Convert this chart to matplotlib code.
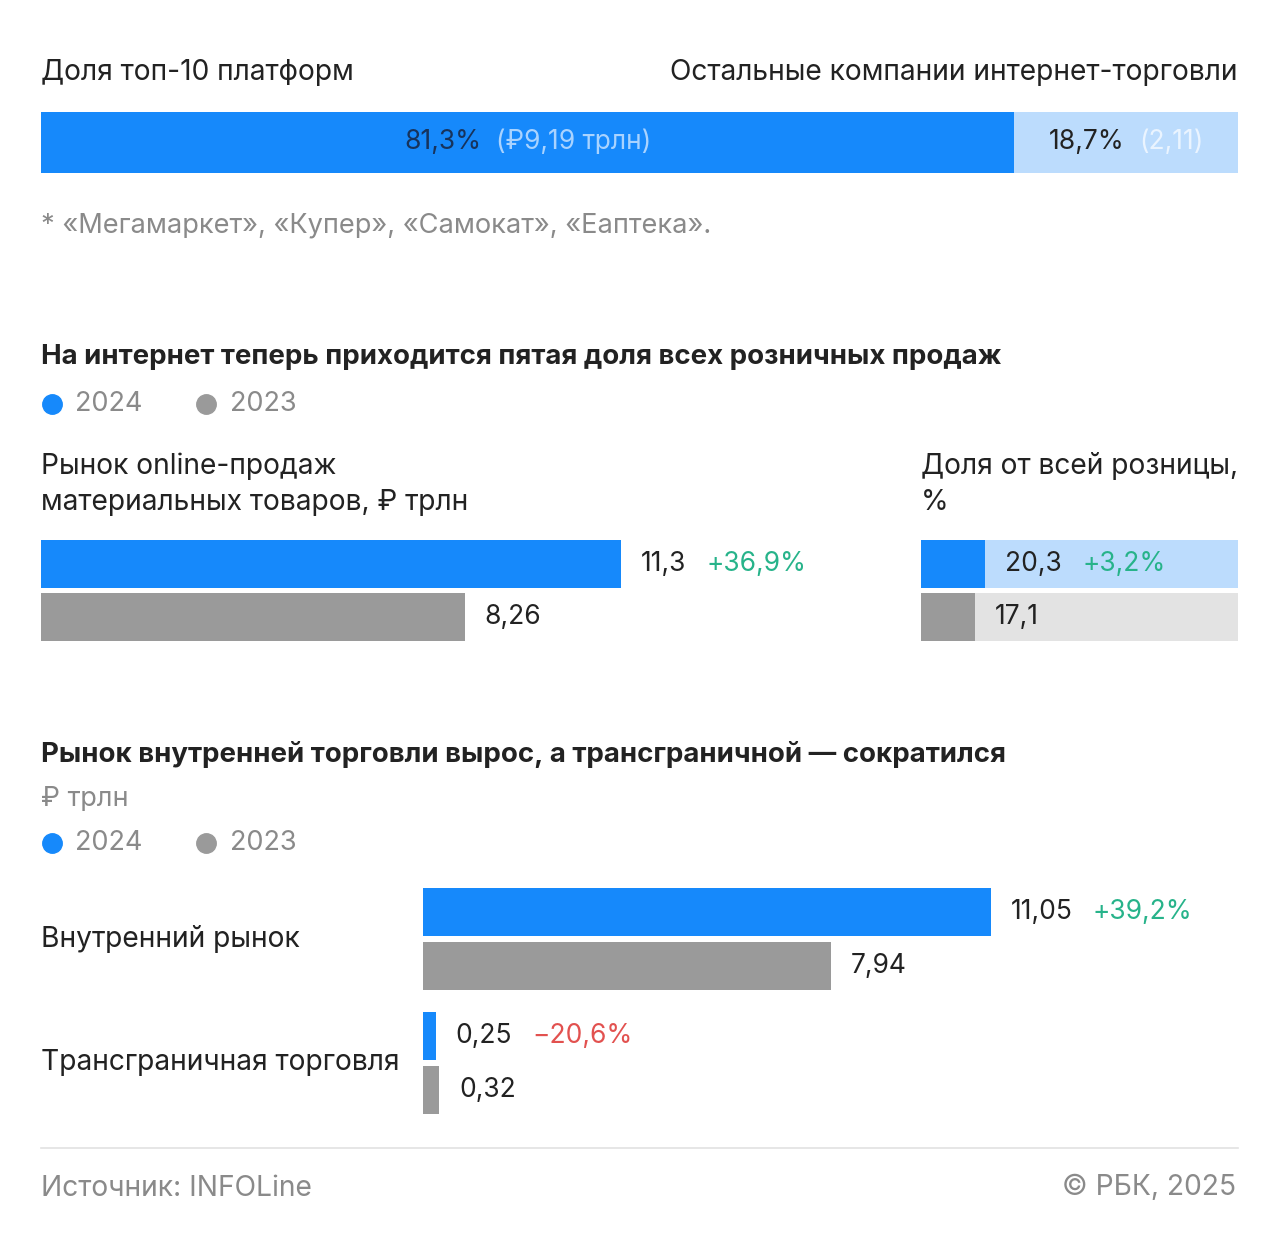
import matplotlib
matplotlib.use("Agg")
import matplotlib.pyplot as plt
from matplotlib.lines import Line2D
import matplotlib.transforms as mtransforms

plt.rcParams["font.family"] = ["Inter", "DejaVu Sans"]

# ----------------------- DATA ----------------------- #
share_labels = ["Доля топ-10 платформ", "Остальные компании интернет-торговли"]
share_values = [81.3, 18.7]
share_texts = [("81,3%", "(₽9,19 трлн)"), ("18,7%", "(2,11)")]

years = ["2024", "2023"]
online_market = [11.3, 8.26]
online_market_txt = ["11,3", "8,26"]
online_change = "+36,9%"
retail_share = [20.3, 17.1]
retail_share_txt = ["20,3", "17,1"]
retail_change = "+3,2%"

segments = ["Внутренний рынок", "Трансграничная торговля"]
seg_2024 = [11.05, 0.25]
seg_2023 = [7.94, 0.32]
seg_2024_txt = ["11,05", "0,25"]
seg_2023_txt = ["7,94", "0,32"]
seg_change = ["+39,2%", "−20,6%"]

# ----------------------- STYLE ---------------------- #
BLUE = "#1689fb"
LIGHT_BLUE = "#bcdcfd"
GRAY = "#9a9a9a"
LIGHT_GRAY = "#e3e3e3"
GREEN = "#27b38a"
RED = "#e2514f"
DARK = "#222222"
MUTED = "#8a8a8a"
NAVY = "#17335c"

FS = 20.3        # labels
FS_VAL = 19      # values on bars
FS_BOLD = 19.9   # section titles

W, H = 1280, 1239
fig = plt.figure(figsize=(W / 100, H / 100), dpi=100)
fig.patch.set_facecolor("white")


def fx(x):
    return x / W


def fy(y):
    return 1 - y / H


def axes_px(x0, y0, x1, y1):
    ax = fig.add_axes([fx(x0), fy(y1), fx(x1 - x0), (y1 - y0) / H])
    ax.set_axis_off()
    return ax


def ftext(x, y, s, **kw):
    kw.setdefault("va", "center")
    kw.setdefault("color", DARK)
    kw.setdefault("fontsize", FS)
    return fig.text(fx(x), fy(y), s, **kw)


def legend(y):
    for x_dot, x_txt, col, lab in [(52, 75, BLUE, years[0]), (206, 230, GRAY, years[1])]:
        fig.add_artist(Line2D([fx(x_dot)], [fy(y)], marker="o", markersize=14,
                              color=col, transform=fig.transFigure))
        ftext(x_txt, y, lab, color=MUTED, fontsize=19.5)


def value_label(ax, x, y, val, change=None, change_color=GREEN, pad=20):
    t = ax.annotate(val, xy=(x, y), xytext=(pad, 0), textcoords="offset pixels",
                    va="center", ha="left", fontsize=FS_VAL, color=DARK)
    if change:
        ax.annotate(change, xy=(1, 0.5), xycoords=t, xytext=(20, 0),
                    textcoords="offset pixels", va="center", ha="left",
                    fontsize=FS_VAL, color=change_color)
    return t


# ---------------- SECTION 1: shares ---------------- #
ftext(41, 72, share_labels[0])
ftext(1238, 72, share_labels[1], ha="right")

ax1 = axes_px(41, 112, 1238, 173)
ax1.barh([0], [share_values[0]], color=BLUE, height=1)
ax1.barh([0], [share_values[1]], left=[share_values[0]], color=LIGHT_BLUE, height=1)
ax1.set_xlim(0, sum(share_values))
ax1.set_ylim(-0.5, 0.5)

renderer = fig.canvas.get_renderer()
lefts = [0, share_values[0]]
colors_pairs = [(NAVY, "#a9d3ff"), (DARK, "#eaf4ff")]
for left, val, (a, b), (ca, cb) in zip(lefts, share_values, share_texts, colors_pairs):
    t1 = ax1.annotate(a, xy=(left + val / 2, 0), xytext=(0, 0), textcoords="offset pixels",
                      va="center", ha="left", fontsize=FS_VAL, color=ca)
    t2 = ax1.annotate(b, xy=(1, 0.5), xycoords=t1, xytext=(14, 0), textcoords="offset pixels",
                      va="center", ha="left", fontsize=FS_VAL, color=cb)
    e1 = t1.get_window_extent(renderer)
    e2 = t2.get_window_extent(renderer)
    t1.xyann = (-(e2.x1 - e1.x0) / 2, 0)

ftext(41, 225, "* «Мегамаркет», «Купер», «Самокат», «Еаптека».", color=MUTED, fontsize=19.6)

# ---------------- SECTION 2: online market ---------------- #
ftext(41, 357, "На интернет теперь приходится пятая доля всех розничных продаж",
      fontsize=FS_BOLD, fontweight="bold")
legend(404)

ftext(41, 466, "Рынок online-продаж")
ftext(41, 502, "материальных товаров, ₽ трлн")
ftext(921, 466, "Доля от всей розницы,")
ftext(921, 502, "%")

# left panel: 51.3 px per trillion
ax2 = axes_px(41, 537, 861, 644)
ax2.barh([0, 1], online_market, color=[BLUE, GRAY], height=0.9)
ax2.set_xlim(0, 820 / 51.3)
ax2.set_ylim(1.5, -0.5)
for i, (v, s) in enumerate(zip(online_market, online_market_txt)):
    value_label(ax2, v, i, s, online_change if i == 0 else None)

# right panel: share of total retail, full width = 100%
ax3 = axes_px(921, 537, 1238, 644)
ax3.barh([0, 1], [100, 100], color=[LIGHT_BLUE, LIGHT_GRAY], height=0.9)
ax3.barh([0, 1], retail_share, color=[BLUE, GRAY], height=0.9)
ax3.set_xlim(0, 100)
ax3.set_ylim(1.5, -0.5)
for i, (v, s) in enumerate(zip(retail_share, retail_share_txt)):
    value_label(ax3, v, i, s, retail_change if i == 0 else None)

# ---------------- SECTION 3: domestic vs cross-border ---------------- #
ftext(41, 755, "Рынок внутренней торговли вырос, а трансграничной — сократился",
      fontsize=FS_BOLD, fontweight="bold")
ftext(41, 799, "₽ трлн", color=MUTED, fontsize=19.5)
legend(843)

ax4 = axes_px(423, 877, 1238, 1125)
pos = list(range(len(segments)))
off, bh = 0.218, 0.39
ax4.barh([p - off for p in pos], seg_2024, color=BLUE, height=bh)
ax4.barh([p + off for p in pos], seg_2023, color=GRAY, height=bh)
ax4.set_xlim(0, 815 / 51.4)
ax4.set_ylim(1.5, -0.5)
for i in pos:
    value_label(ax4, seg_2024[i], i - off, seg_2024_txt[i], seg_change[i],
                change_color=GREEN if i == 0 else RED)
    value_label(ax4, seg_2023[i], i + off, seg_2023_txt[i])

blend = mtransforms.blended_transform_factory(fig.transFigure, ax4.transData)
for i, lab in enumerate(segments):
    ax4.text(fx(41), i, lab, transform=blend, va="center", ha="left",
             fontsize=FS, color=DARK)

# ---------------- footer ---------------- #
fig.add_artist(Line2D([fx(41), fx(1238)], [fy(1148), fy(1148)], color="#e2e2e2",
                      linewidth=1.2, transform=fig.transFigure))
ftext(41, 1188, "Источник: INFOLine", color=MUTED)
ftext(1236, 1188, "© РБК, 2025", color=MUTED, ha="right")

fig.savefig("out.png", dpi=100, facecolor="white")
